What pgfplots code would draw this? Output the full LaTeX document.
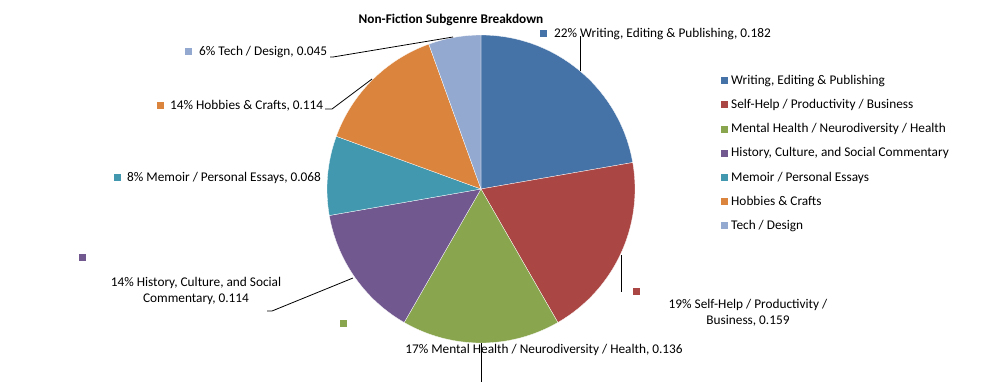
\documentclass[border=0pt]{standalone}
\usepackage{pgfplots}
\pgfplotsset{compat=1.18}
\usepackage{pgfplotstable}
\usepackage{fontspec}
\setmainfont{Carlito}
\definecolor{c0}{HTML}{4572A7}
\definecolor{c1}{HTML}{AA4643}
\definecolor{c2}{HTML}{89A54E}
\definecolor{c3}{HTML}{71588F}
\definecolor{c4}{HTML}{4198AF}
\definecolor{c5}{HTML}{DB843D}
\definecolor{c6}{HTML}{93A9CF}
\pgfplotstableread{
value
0.182
0.159
0.136
0.114
0.068
0.114
0.045
}\pietable
\newcommand\lblfont{\fontsize{13.3}{16}\selectfont}
\begin{document}
\begin{tikzpicture}[
  lbl/.style={font=\lblfont, inner sep=0pt},
  ldr/.style={draw=black, line width=0.8pt},
]
\begin{axis}[
  x=1pt, y=1pt, y dir=reverse,
  xmin=0, xmax=1004, ymin=0, ymax=382,
  hide axis, clip=false,
  legend image code/.code={\fill[#1] (0pt,-3.5pt) rectangle (7pt,3.5pt); \path (10pt,0pt);},
  legend style={at={(axis cs:721,74)}, anchor=north west, draw=none, fill=none,
    font=\lblfont, inner sep=0pt, row sep=11.2pt,
    nodes={text height=10pt, text depth=3pt, inner sep=0pt},
    column sep=0pt},
  legend cell align=left,
]
\path (axis cs:0,0) rectangle (axis cs:1004,382);
% total
\def\pietotal{0}
\pgfplotsforeachungrouped \i in {0,...,6}{%
  \pgfplotstablegetelem{\i}{value}\of\pietable
  \pgfmathsetmacro{\pietotal}{\pietotal+\pgfplotsretval}%
}
\def\cum{0}
\pgfplotsforeachungrouped \i in {0,...,6}{%
  \pgfplotstablegetelem{\i}{value}\of\pietable
  \let\v\pgfplotsretval
  \pgfmathsetmacro{\sa}{90-360*\cum/\pietotal}%
  \pgfmathsetmacro{\cum}{\cum+\v}%
  \pgfmathsetmacro{\sb}{90-360*\cum/\pietotal}%
  \edef\temp{\noexpand\fill[c\i, draw=white, line width=0.3pt] (axis cs:481,189) -- ++(\sa:154pt) arc[start angle=\sa, end angle=\sb, radius=154pt] -- cycle;}%
  \temp
}
% legend
\addlegendimage{fill=c0,draw=none}\addlegendentry{Writing, Editing \& Publishing}
\addlegendimage{fill=c1,draw=none}\addlegendentry{Self-Help / Productivity / Business}
\addlegendimage{fill=c2,draw=none}\addlegendentry{Mental Health / Neurodiversity / Health}
\addlegendimage{fill=c3,draw=none}\addlegendentry{History, Culture, and Social Commentary}
\addlegendimage{fill=c4,draw=none}\addlegendentry{Memoir / Personal Essays}
\addlegendimage{fill=c5,draw=none}\addlegendentry{Hobbies \& Crafts}
\addlegendimage{fill=c6,draw=none}\addlegendentry{Tech / Design}
% title
\node[font=\lblfont\bfseries, inner sep=0pt] at (axis cs:451,20) {Non-Fiction Subgenre Breakdown};
% leader lines
\draw[ldr] (axis cs:580,71) -- (axis cs:580,36);
\draw[ldr] (axis cs:621,255) -- (axis cs:621,292);
\draw[ldr] (axis cs:481,343) -- (axis cs:481,382);
\draw[ldr] (axis cs:353,278) -- (axis cs:272,311) -- (axis cs:267,311);
\draw[ldr] (axis cs:372,79) -- (axis cs:332,109) -- (axis cs:325,109);
\draw[ldr] (axis cs:453,37) -- (axis cs:333,57) -- (axis cs:330,57);
% label keys
\fill[c0] (axis cs:539.5,30.5) rectangle (axis cs:546.5,37.5);
\fill[c1] (axis cs:632.5,287.5) rectangle (axis cs:639.5,294.5);
\fill[c2] (axis cs:339.5,319.5) rectangle (axis cs:346.5,326.5);
\fill[c3] (axis cs:78.5,253.5) rectangle (axis cs:85.5,260.5);
\fill[c4] (axis cs:113.5,173.5) rectangle (axis cs:120.5,180.5);
\fill[c5] (axis cs:156.5,101.5) rectangle (axis cs:163.5,108.5);
\fill[c6] (axis cs:184.5,48.5) rectangle (axis cs:191.5,55.5);
% labels
\node[lbl, anchor=west] at (axis cs:554,34.5) {22\% Writing, Editing \& Publishing, 0.182};
\node[lbl, align=center] at (axis cs:748,313) {19\% Self-Help / Productivity /\\Business, 0.159};
\node[lbl] at (axis cs:544,349.5) {17\% Mental Health / Neurodiversity / Health, 0.136};
\node[lbl, align=center] at (axis cs:196,291) {14\% History, Culture, and Social\\Commentary, 0.114};
\node[lbl, anchor=west] at (axis cs:127,177.5) {8\% Memoir / Personal Essays, 0.068};
\node[lbl, anchor=west] at (axis cs:170,105.5) {14\% Hobbies \& Crafts, 0.114};
\node[lbl, anchor=west] at (axis cs:199,52.5) {6\% Tech / Design, 0.045};
\end{axis}
\end{tikzpicture}
\end{document}
